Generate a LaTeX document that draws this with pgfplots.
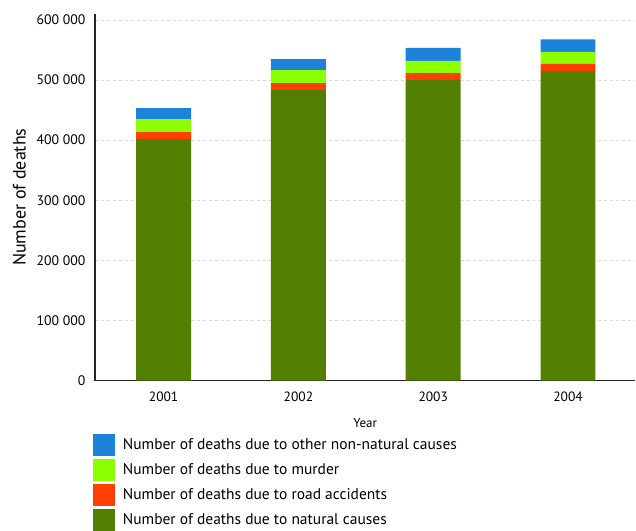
\documentclass[border=0pt]{standalone}
\usepackage{pgfplots}
\pgfplotsset{compat=1.18}
\usepackage{fontspec}
\setmainfont{PT Sans}
\definecolor{cblue}{HTML}{1C82DA}
\definecolor{clime}{HTML}{8CFF00}
\definecolor{cred}{HTML}{FF3F00}
\definecolor{cgreen}{HTML}{527F00}
\begin{document}
\begin{tikzpicture}
\begin{axis}[
  scale only axis,
  width=541pt, height=367pt,
  ybar stacked, bar width=55pt,
  xmin=-0.51, xmax=3.5,
  ymin=0, ymax=610000,
  scaled y ticks=false,
  xtick={0,1,2,3}, xticklabels={2001,2002,2003,2004},
  ytick={0,100000,200000,300000,400000,500000,600000},
  yticklabels={0,100 000,200 000,300 000,400 000,500 000,600 000},
  yticklabel style={font=\fontsize{13.8}{15}\selectfont, xshift=-6pt},
  xticklabel style={font=\fontsize{13.5}{15}\selectfont, yshift=-8pt},
  tick style={draw=none},
  axis x line*=bottom, axis y line*=left,
  axis line style={draw=black!85, line width=1.2pt, -},
  ymajorgrids, grid style={dashed, draw=gray!30, line width=0.8pt},
  xlabel={Year}, xlabel style={font=\fontsize{13}{14}\selectfont, yshift=-10pt},
  ylabel={Number of deaths}, ylabel style={font=\fontsize{18}{20}\selectfont, yshift=4pt},
  legend style={at={(-0.004,-0.145)}, anchor=north west, draw=none, fill=none,
    font=\fontsize{15.5}{17}\selectfont, row sep=3pt, legend cell align=left,
    inner sep=0pt},
  legend image code/.code={\fill[#1, draw=none] (0pt,-11pt) rectangle (22pt,11pt); \path (28pt,0pt);},
  reverse legend,
  clip=false,
]
\addplot[fill=cgreen, draw=none] coordinates {(0,401700) (1,483300) (2,500000) (3,515000)};
\addplot[fill=cred, draw=none] coordinates {(0,11700) (1,11700) (2,11700) (3,11700)};
\addplot[fill=clime, draw=none] coordinates {(0,21700) (1,21700) (2,20000) (3,20000)};
\addplot[fill=cblue, draw=none] coordinates {(0,18300) (1,18300) (2,21700) (3,21000)};
\legend{Number of deaths due to natural causes,Number of deaths due to road accidents,Number of deaths due to murder,Number of deaths due to other non-natural causes}
\path (rel axis cs:-0.1756,-0.403) rectangle (rel axis cs:1,1.038);
\end{axis}
\end{tikzpicture}
\end{document}
